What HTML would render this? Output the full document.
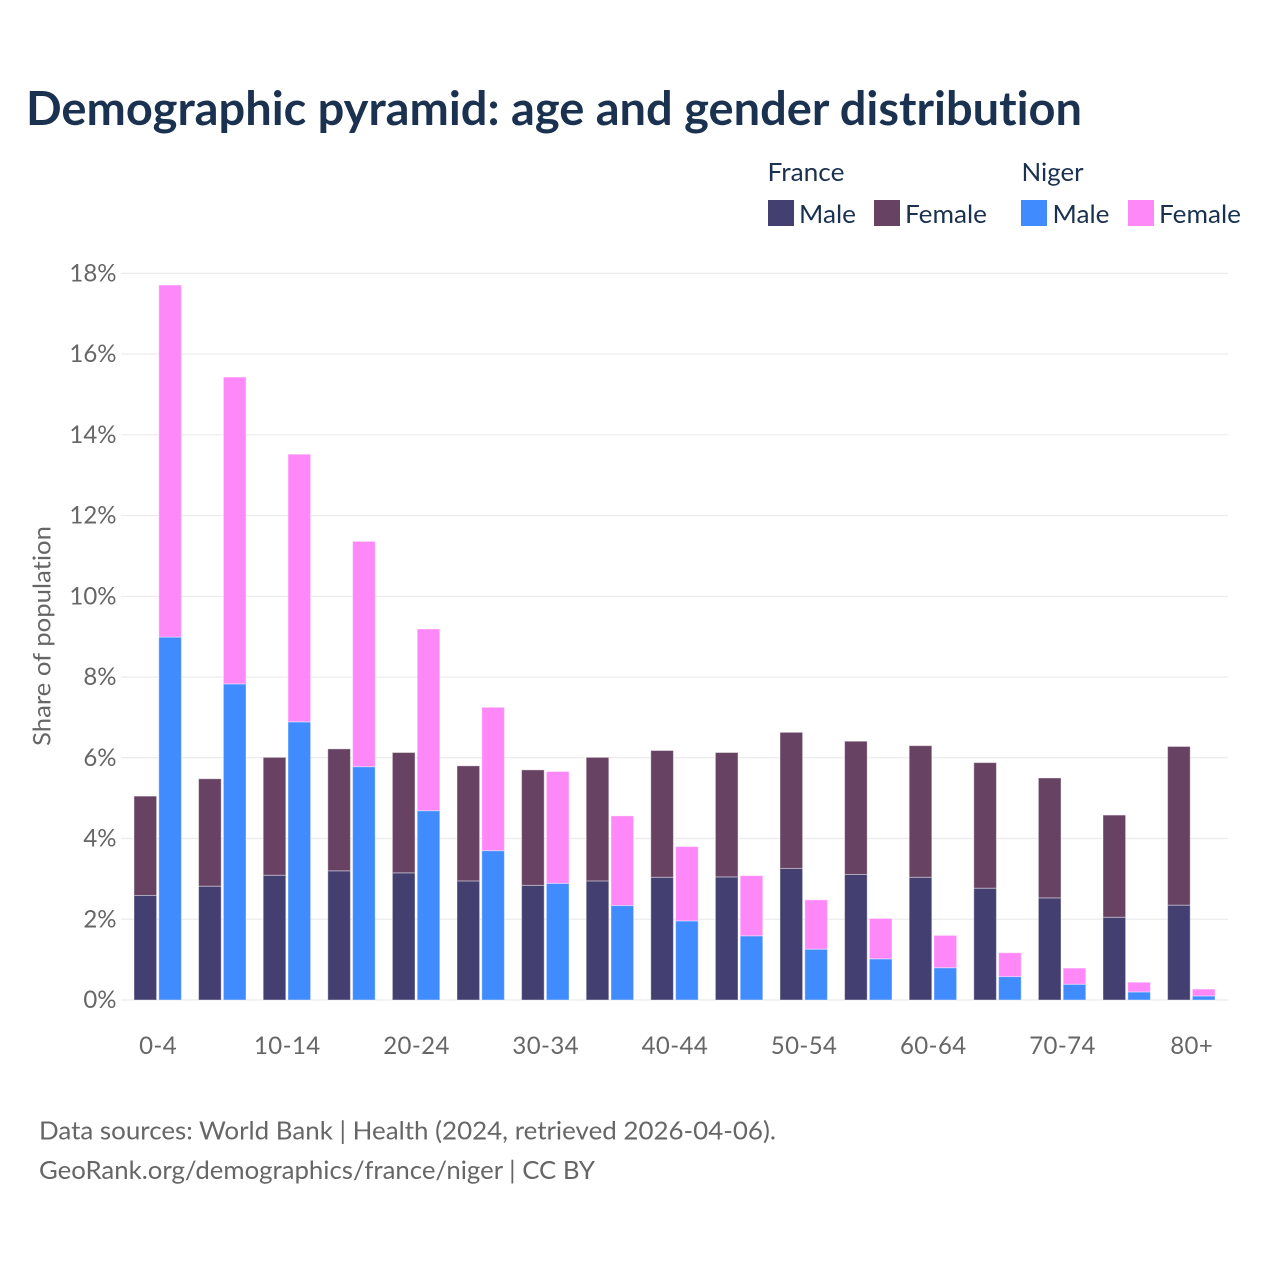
<!DOCTYPE html>
<html lang="en">
<head>
<meta charset="utf-8">
<title>Demographic pyramid</title>
<style>
html,body{margin:0;padding:0;background:#fff;}
svg{display:block;}
text{font-family:"Lato","Carlito","Liberation Sans",sans-serif;font-variant-ligatures:none;}
</style>
</head>
<body>
<svg id="chart" xmlns="http://www.w3.org/2000/svg" width="1280" height="1280" viewBox="0 0 1280 1280">
  <rect x="0" y="0" width="1280" height="1280" fill="#ffffff"/>
  <text x="26" y="125" font-size="47" font-weight="700" fill="#1a3150" textLength="1056" lengthAdjust="spacingAndGlyphs">Demographic pyramid: age and gender distribution</text>

  <g>
    <text x="767.5" y="181" font-size="25" fill="#1a3150" textLength="77" lengthAdjust="spacingAndGlyphs">France</text>
    <rect x="768" y="200" width="26" height="26" fill="#433f70"/>
    <text x="799" y="223" font-size="25" fill="#1a3150" textLength="57" lengthAdjust="spacingAndGlyphs">Male</text>
    <rect x="874" y="200" width="26" height="26" fill="#674263"/>
    <text x="905" y="223" font-size="25" fill="#1a3150" textLength="82" lengthAdjust="spacingAndGlyphs">Female</text>
    <text x="1021.5" y="181" font-size="25" fill="#1a3150" textLength="62" lengthAdjust="spacingAndGlyphs">Niger</text>
    <rect x="1021" y="200" width="26" height="26" fill="#408cff"/>
    <text x="1052.5" y="223" font-size="25" fill="#1a3150" textLength="57" lengthAdjust="spacingAndGlyphs">Male</text>
    <rect x="1128" y="200" width="26" height="26" fill="#ff88f8"/>
    <text x="1159" y="223" font-size="25" fill="#1a3150" textLength="82" lengthAdjust="spacingAndGlyphs">Female</text>
  </g>

  <g id="grid"></g>
  <g id="y-ticks"></g>
  <g id="bars"></g>
  <g id="x-ticks"></g>

  <text transform="translate(50.5,636) rotate(-90)" text-anchor="middle" font-size="24" fill="#666666" textLength="220" lengthAdjust="spacingAndGlyphs">Share of population</text>

  <text x="39" y="1139.5" font-size="25" fill="#666666" textLength="737" lengthAdjust="spacingAndGlyphs">Data sources: World Bank | Health (2024, retrieved 2026-04-06).</text>
  <text x="39" y="1179" font-size="25" fill="#666666" textLength="556" lengthAdjust="spacingAndGlyphs">GeoRank.org/demographics/france/niger | CC BY</text>
</svg>

<script>
const categories = ["0-4","5-9","10-14","15-19","20-24","25-29","30-34","35-39","40-44","45-49","50-54","55-59","60-64","65-69","70-74","75-79","80+"];
const franceMale = [2.59,2.82,3.09,3.20,3.15,2.95,2.84,2.95,3.04,3.05,3.26,3.11,3.04,2.77,2.53,2.05,2.35];
const franceFemale = [2.46,2.66,2.92,3.02,2.98,2.85,2.86,3.06,3.14,3.08,3.37,3.30,3.26,3.11,2.97,2.53,3.93];
const nigerMale = [8.99,7.83,6.89,5.78,4.69,3.70,2.89,2.34,1.96,1.59,1.26,1.02,0.80,0.58,0.39,0.20,0.10];
const nigerFemale = [8.72,7.60,6.63,5.58,4.50,3.55,2.77,2.22,1.84,1.49,1.22,1.00,0.80,0.59,0.40,0.24,0.17];
const yTicks = [0,2,4,6,8,10,12,14,16,18];
const xTickEvery = 2;

const NS = "http://www.w3.org/2000/svg";
const BASE_Y = 1000;
const PX_PER_UNIT = 40.37;
const FIRST_CENTER = 157.7;
const STEP = 64.6;
const BAR_W = 22.6;
const BAR_OFFSET = 12.4;

function yScale(v) { return BASE_Y - v * PX_PER_UNIT; }
function xScale(i) { return FIRST_CENTER + i * STEP; }
function make(tag, parent) {
  const el = document.createElementNS(NS, tag);
  parent.appendChild(el);
  return el;
}
function drawSegment(parent, cx, from, to, fill) {
  const r = make("rect", parent);
  r.setAttribute("x", cx - BAR_W / 2);
  r.setAttribute("y", yScale(to));
  r.setAttribute("width", BAR_W);
  r.setAttribute("height", yScale(from) - yScale(to));
  r.setAttribute("fill", fill);
  r.setAttribute("stroke", "#ffffff");
  r.setAttribute("stroke-opacity", "0.4");
  r.setAttribute("stroke-width", "1");
  return r;
}

const grid = document.getElementById("grid");
const yGroup = document.getElementById("y-ticks");
yTicks.forEach(function (t) {
  const line = make("line", grid);
  
  
  line.setAttribute("x1", 121);
  line.setAttribute("x2", 1228);
  line.setAttribute("y1", yScale(t));
  line.setAttribute("y2", yScale(t));
  line.setAttribute("stroke", "#ebebeb");
  line.setAttribute("stroke-width", "1.2");
  const label = make("text", yGroup);
  
  
  label.setAttribute("x", 116.5);
  label.setAttribute("y", yScale(t) + 8);
  label.setAttribute("text-anchor", "end");
  label.setAttribute("font-size", "24");
  label.setAttribute("fill", "#666666");
  label.textContent = t + "%";
});

const bars = document.getElementById("bars");
const xGroup = document.getElementById("x-ticks");
categories.forEach(function (cat, i) {
  const c = xScale(i);
  const fx = c - BAR_OFFSET;
  const nx = c + BAR_OFFSET;

  const fm = drawSegment(bars, fx, 0, franceMale[i], "#433f70");
  
  
  const ff = drawSegment(bars, fx, franceMale[i], franceMale[i] + franceFemale[i], "#674263");
  
  
  const nm = drawSegment(bars, nx, 0, nigerMale[i], "#408cff");
  
  
  const nf = drawSegment(bars, nx, nigerMale[i], nigerMale[i] + nigerFemale[i], "#ff88f8");
  
  

  if (i % xTickEvery === 0) {
    const label = make("text", xGroup);
    
    
    label.setAttribute("x", c + 0.4);
    label.setAttribute("y", 1054);
    label.setAttribute("text-anchor", "middle");
    label.setAttribute("font-size", "24");
    label.setAttribute("letter-spacing", "0.4");
    label.setAttribute("fill", "#666666");
    label.textContent = cat;
  }
});
</script>
</body>
</html>
